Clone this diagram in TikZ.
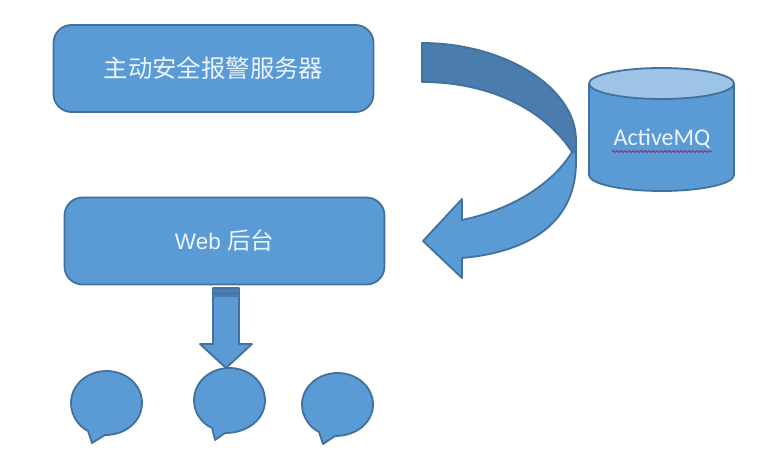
\documentclass[tikz,border=0pt]{standalone}
\usepackage{fontspec}
\setmainfont{Liberation Sans}
\newfontfamily\cjk{Noto Sans CJK SC}
\newfontfamily\carl{Carlito}
\usetikzlibrary{decorations.pathmorphing}
\definecolor{fillb}{HTML}{5B9BD5}
\definecolor{lineb}{HTML}{41719C}
\definecolor{darkb}{HTML}{4A7DAD}
\definecolor{lightb}{HTML}{9DC3E6}
\definecolor{txtw}{HTML}{EAF4FC}
\definecolor{squig}{HTML}{A0307A}
\tikzset{
  shapeb/.style={draw=lineb,fill=fillb,line width=1.8pt,line join=round},
  darkshape/.style={draw=lineb,fill=darkb,line width=1.8pt,line join=round},
  boxb/.style={shapeb,rounded corners=18pt,minimum width=320pt,minimum height=87pt,inner sep=0pt,text=txtw},
  bubblelook/.style={shapeb}
}
\begin{document}
\begin{tikzpicture}[x=1pt,y=-1pt]
\useasboundingbox (0,0) rectangle (773,463);
\fill[white] (0,0) rectangle (773,463);
% boxes
\node[boxb] (srv) at (213.5,68.5) {\raisebox{-1.5pt}{\fontsize{24.4}{28}\selectfont\cjk 主动安全报警服务器}};
\node[boxb] (web) at (224.5,241) {\fontsize{22.5}{26}\selectfont Web {\cjk\fontsize{23.5}{26}\selectfont 后台}};
% curved arrow: light lower part
\path[shapeb] (572,152) .. controls (552,185) and (510,210) .. (462,220)
  -- (462,199) -- (423,241) -- (462,278) -- (462,258)
  .. controls (530,252) and (577,222) .. (576,160)
  -- (576,150) -- cycle;
% curved arrow: dark upper part
\path[darkshape] (422,43) .. controls (505,43) and (576,88) .. (576,140)
  -- (576,152) -- (572,152)
  .. controls (545,110) and (490,82) .. (422,82) -- cycle;
% cylinder
\path[shapeb] (589,84) -- (589,175) arc[start angle=180,end angle=360,x radius=72.5,y radius=-16] -- (734,84) -- cycle;
\draw[shapeb,fill=lightb] (661.5,83.5) ellipse[x radius=72.5,y radius=15.5];
\node[inner sep=0pt,text=txtw] (mq) at (662,139) {\fontsize{24}{28}\selectfont\carl ActiveMQ};
\draw[squig,line width=1.1pt,decorate,decoration={snake,amplitude=0.9pt,segment length=4pt}] (612,151.5) -- (712,151.5);
% down arrow
\coordinate (dtop) at (226,288);
\path[shapeb] (213,288) -- (239,288) -- (239,344) -- (252,344) -- (226,368) -- (200,344) -- (213,344) -- cycle;
\fill[darkb] (213,289) rectangle (239,297);
\draw[lineb,line width=1pt] (213,293.5) -- (239,293.5);
% speech bubbles
\path[bubblelook] (88,431) -- (92,443) -- (105,435)
  .. controls (126,435) and (142,421) .. (142,403)
  .. controls (142,385) and (126,371) .. (106.5,371)
  .. controls (87,371) and (71,385) .. (71,403)
  .. controls (71,415) and (78,426) .. (88,431) -- cycle;
\path[bubblelook] (212,428) -- (215,440) -- (225,433)
  .. controls (248,433) and (265,419) .. (265,400.5)
  .. controls (265,382) and (249,368) .. (229.5,368)
  .. controls (210,368) and (194,382) .. (194,400.5)
  .. controls (194,412) and (201,423) .. (212,428) -- cycle;
\path[bubblelook] (319,432) -- (323,444) -- (335,436)
  .. controls (357,436) and (373,422) .. (373,404.5)
  .. controls (373,387) and (357,373) .. (337.5,373)
  .. controls (318,373) and (302,387) .. (302,404.5)
  .. controls (302,416) and (309,427) .. (319,432) -- cycle;
\end{tikzpicture}
\end{document}
